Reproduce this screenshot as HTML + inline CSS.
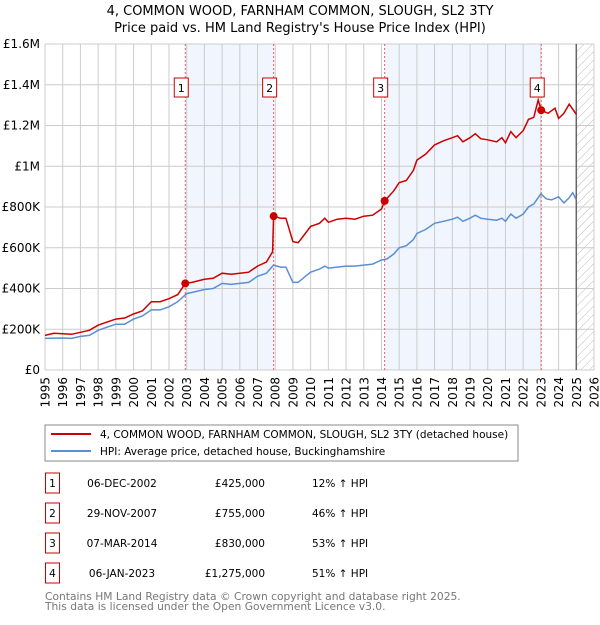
<!DOCTYPE html>
<html><head><meta charset="utf-8"><style>
body{margin:0;background:#fff;font-family:"Liberation Sans","DejaVu Sans",sans-serif}
svg text{font-family:"DejaVu Sans","Liberation Sans",sans-serif}
</style></head><body>
<svg id="c" width="600" height="620" viewBox="0 0 600 620">
<defs><pattern id="hatch" width="6" height="6" patternUnits="userSpaceOnUse" patternTransform="rotate(45)"><line x1="0" y1="0" x2="0" y2="6" stroke="#bbb" stroke-width="1"/></pattern></defs>
<text x="300" y="15" text-anchor="middle" font-size="13">4, COMMON WOOD, FARNHAM COMMON, SLOUGH, SL2 3TY</text>
<text x="300" y="32" text-anchor="middle" font-size="13">Price paid vs. HM Land Registry's House Price Index (HPI)</text>
<g id="plot"></g>
<rect x="45" y="425" width="473" height="36" fill="#fff" stroke="#888"/>
<line x1="51" y1="434" x2="91" y2="434" stroke="#cc0000" stroke-width="2"/>
<text x="100" y="438" font-size="10.5">4, COMMON WOOD, FARNHAM COMMON, SLOUGH, SL2 3TY (detached house)</text>
<line x1="51" y1="451" x2="91" y2="451" stroke="#5b8fd4" stroke-width="2"/>
<text x="100" y="455" font-size="10.5">HPI: Average price, detached house, Buckinghamshire</text>
<g id="table" font-size="10.5"></g>
<text x="45" y="600" font-size="10.7" fill="#777">Contains HM Land Registry data © Crown copyright and database right 2025.</text>
<text x="45" y="610" font-size="10.7" fill="#777">This data is licensed under the Open Government Licence v3.0.</text>
</svg>
<script>
const yTicks=[0,200000,400000,600000,800000,1000000,1200000,1400000,1600000];
const yTickLabels=["£0","£200K","£400K","£600K","£800K","£1M","£1.2M","£1.4M","£1.6M"];
const xYears=[1995,1996,1997,1998,1999,2000,2001,2002,2003,2004,2005,2006,2007,2008,2009,2010,2011,2012,2013,2014,2015,2016,2017,2018,2019,2020,2021,2022,2023,2024,2025,2026];
const hpiT=[1995,1996,1996.5,1997,1997.5,1998,1998.5,1999,1999.5,2000,2000.5,2001,2001.5,2002,2002.5,2003,2003.5,2004,2004.5,2005,2005.5,2006,2006.5,2007,2007.5,2007.9,2008.3,2008.6,2009,2009.3,2009.7,2010,2010.5,2010.8,2011,2011.5,2012,2012.5,2013,2013.5,2014,2014.3,2014.7,2015,2015.4,2015.8,2016,2016.5,2017,2017.5,2018,2018.3,2018.6,2019,2019.3,2019.6,2020,2020.5,2020.8,2021,2021.3,2021.6,2022,2022.3,2022.6,2023,2023.3,2023.6,2024,2024.3,2024.6,2024.8,2025];
const hpiV=[155,157,155,165,170,195,210,225,225,250,265,295,295,310,335,375,385,395,400,425,420,425,430,460,475,515,505,505,430,430,460,480,495,510,500,505,510,510,515,520,540,545,570,600,610,640,670,690,720,730,740,750,730,745,760,745,740,735,745,730,765,745,765,800,815,865,840,835,850,820,845,870,835];
const priceT=[1995,1995.5,1996.5,1997,1997.5,1998,1998.5,1999,1999.5,2000,2000.5,2001,2001.5,2002,2002.5,2002.92,2003.3,2004,2004.5,2005,2005.5,2006,2006.5,2007,2007.5,2007.85,2007.91,2008.3,2008.6,2009,2009.3,2009.7,2010,2010.5,2010.8,2011,2011.5,2012,2012.5,2013,2013.5,2014,2014.18,2014.7,2015,2015.4,2015.8,2016,2016.5,2017,2017.5,2018,2018.3,2018.6,2019,2019.3,2019.6,2020,2020.5,2020.8,2021,2021.3,2021.6,2022,2022.3,2022.6,2022.85,2023.02,2023.4,2023.8,2024,2024.3,2024.6,2024.8,2025];
const priceV=[170,180,175,185,195,220,235,250,255,275,290,335,335,350,370,425,430,445,450,475,470,475,480,510,530,580,755,745,745,630,625,670,705,720,745,725,740,745,740,755,760,790,830,880,920,930,980,1030,1060,1105,1125,1140,1150,1120,1140,1160,1135,1130,1120,1140,1115,1170,1140,1175,1230,1240,1325,1275,1260,1285,1235,1260,1305,1280,1255];
const saleT=[2002.92,2007.91,2014.18,2023.02];
const saleV=[425000,755000,830000,1275000];
const saleDates=["06-DEC-2002","29-NOV-2007","07-MAR-2014","06-JAN-2023"];
const salePrices=["£425,000","£755,000","£830,000","£1,275,000"];
const saleHpi=["12% ↑ HPI","46% ↑ HPI","53% ↑ HPI","51% ↑ HPI"];
const X0=45,X1=594,Y0=370,Y1=44;
const x=t=>X0+(t-1995)/(2026-1995)*(X1-X0);
const y=v=>Y0-v/1600000*(Y0-Y1);
const NS="http://www.w3.org/2000/svg";
function mk(tag,attrs,parent,text){const e=document.createElementNS(NS,tag);for(const k in attrs)e.setAttribute(k,attrs[k]);if(text!=null)e.textContent=text;parent.appendChild(e);return e;}
const g=document.getElementById('plot');
let e;
for(let i=0;i<2;i++){e=mk('rect',{x:x(saleT[i*2]),y:Y1,width:x(saleT[i*2+1])-x(saleT[i*2]),height:Y0-Y1,fill:'#eef3fc',opacity:0.8},g);

}
e=mk('rect',{x:x(2025),y:Y1,width:X1-x(2025),height:Y0-Y1,fill:'url(#hatch)'},g);


xYears.forEach(t=>{e=mk('line',{x1:x(t),x2:x(t),y1:Y1,y2:Y0,stroke:'#ccc','stroke-width':1},g);


e=mk('text',{x:0,y:0,'text-anchor':'end','font-size':12,transform:`translate(${x(t)+4.5},377) rotate(-90)`},g,String(t));

});
yTicks.forEach((v,i)=>{e=mk('line',{x1:X0,x2:X1,y1:y(v),y2:y(v),stroke:'#ccc','stroke-width':1},g);


e=mk('text',{x:40,y:y(v)+4,'text-anchor':'end','font-size':12},g,yTickLabels[i]);

});
e=mk('line',{x1:x(2025),x2:x(2025),y1:Y1,y2:Y0,stroke:'#666','stroke-width':1.5},g);


saleT.forEach((t,i)=>{e=mk('line',{x1:x(t),x2:x(t),y1:Y1,y2:Y0,stroke:'#e06060','stroke-width':1,'stroke-dasharray':'2,2'},g);


e=mk('rect',{x:x(t)-11,y:78,width:14,height:19,fill:'#fff',stroke:'#cc0000'},g);


e=mk('text',{x:x(t)-4,y:92,'text-anchor':'middle','font-size':11},g,String(i+1));

});
const pts=(T,V)=>T.map((t,i)=>x(t).toFixed(1)+','+y(V[i]*1000).toFixed(1)).join(' ');
e=mk('polyline',{points:pts(hpiT,hpiV),fill:'none',stroke:'#5b8fd4','stroke-width':1.5},g);


e=mk('polyline',{points:pts(priceT,priceV),fill:'none',stroke:'#cc0000','stroke-width':1.5},g);


saleT.forEach((t,i)=>{e=mk('circle',{cx:x(t),cy:y(saleV[i]),r:4,fill:'#cc0000'},g);

});
const tb=document.getElementById('table');
const rowY=[483,513,543,573];
rowY.forEach((ry,i)=>{
e=mk('rect',{x:45.5,y:ry-10,width:14,height:20,fill:'#fff',stroke:'#cc0000'},tb);


e=mk('text',{x:52.5,y:ry+4,'text-anchor':'middle'},tb,String(i+1));


e=mk('text',{x:122,y:ry+4,'text-anchor':'middle'},tb,saleDates[i]);


e=mk('text',{x:265,y:ry+4,'text-anchor':'end'},tb,salePrices[i]);


e=mk('text',{x:312,y:ry+4},tb,saleHpi[i]);

});
</script>
</body></html>
